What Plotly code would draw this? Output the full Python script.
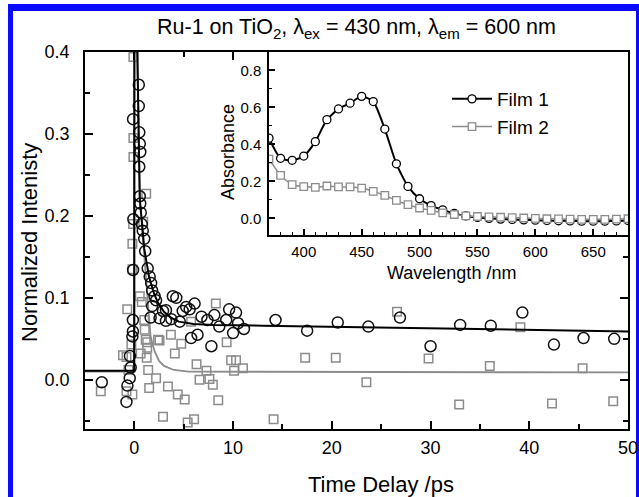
import plotly.graph_objects as go

FONT = "Liberation Sans, Arial, sans-serif"

# ---------------- data ----------------
# main panel: Film 1 (circles), time delay /ps and normalized intensity
film1_t = [-3.3, -0.8, -0.7, -0.47, -0.37, -0.45, -0.2, -0.15, -0.15, -0.13, -0.1, -0.13,
           0.45, 0.45, 0.5, 0.55, 0.6, 0.5, 0.55, 0.6, 0.65, 0.75, 0.85, 1.0, 1.1, 1.35,
           1.55, 1.7, 1.8, 2.05, 2.2, 1.8, 1.65, 2.55, 2.9, 3.2, 3.2, 3.75, 3.9, 4.25, 4.6,
           4.9, 5.25, 5.6, 6.1, 5.75, 6.4, 6.8, 7.4, 7.8, 8.1, 8.6, 9.3, 9.6, 10.0, 10.3,
           10.5, 11.1, 14.3, 17.5, 20.6, 23.7, 26.9, 30.0, 33.0, 36.1, 39.3, 42.5, 45.5, 48.6]
film1_v = [-0.003, -0.027, -0.007, 0.002, 0.015, 0.029, 0.053, 0.059, 0.073, 0.134, 0.196, 0.318,
           0.36, 0.334, 0.302, 0.288, 0.278, 0.26, 0.224, 0.215, 0.204, 0.19, 0.182, 0.172, 0.157, 0.136,
           0.126, 0.118, 0.109, 0.102, 0.097, 0.09, 0.076, 0.075, 0.084, 0.085, 0.072, 0.074, 0.102, 0.1, 0.071,
           0.084, 0.089, 0.086, 0.093, 0.051, 0.055, 0.077, 0.073, 0.041, 0.079, 0.065, 0.073, 0.086, 0.057, 0.082,
           0.069, 0.062, 0.073, 0.06, 0.07, 0.065, 0.076, 0.041, 0.067, 0.066, 0.082, 0.043, 0.051, 0.05]

# main panel: Film 2 (squares)
film2_t = [-3.4, -1.15, -0.8, -0.8, -0.72, -0.6, -0.3, -0.2, -0.2, -0.13, -0.2, -0.1, -0.1, -0.1,
           0.64, 0.55, 0.75, 0.9, 1.2, 1.0, 1.05, 1.15, 1.3, 1.3, 1.25, 1.4, 1.5, 2.4, 2.55,
           2.2, 2.9, 3.4, 3.7, 4.1, 4.4, 4.75, 5.1, 5.4, 6.05, 6.3, 5.75, 7.3, 6.6, 7.6, 7.95,
           8.25, 8.5, 9.35, 9.8, 10.3, 10.1, 11.0, 14.1, 17.3, 20.4, 23.5, 26.6, 29.8, 32.9,
           36.0, 39.1, 42.3, 45.4, 48.5]
film2_v = [-0.014, 0.03, 0.028, -0.014, 0.086, 0.012, 0.043, 0.135, 0.166, 0.19, -0.018, 0.272, 0.295, 0.394,
           0.032, 0.102, 0.095, 0.193, 0.227, 0.073, 0.061, 0.049, 0.046, 0.039, 0.027, 0.012, -0.01, 0.049, 0.048,
           0.002, -0.045, -0.008, 0.055, 0.032, -0.018, 0.044, -0.024, -0.052, -0.048, 0.019, 0.071, 0.011, 0.0, 0.001, -0.006,
           0.093, -0.025, 0.046, 0.024, 0.024, 0.011, 0.014, -0.048, 0.027, 0.027, -0.003, 0.083, 0.026, -0.03,
           0.017, 0.064, -0.029, 0.014, -0.026]

# fit curves
fit1_t = [-5, -0.02, 0.0, 0.2, 0.3, 0.45, 0.55, 0.75, 1.0, 1.5, 2.0, 2.4, 3.0, 3.7, 4.5, 6, 8, 13, 30, 50]
fit1_v = [0.011, 0.011, 0.5, 0.5, 0.40, 0.25, 0.22, 0.195, 0.16, 0.125, 0.105, 0.094, 0.083, 0.076,
          0.071, 0.068, 0.067, 0.066, 0.063, 0.059]
fit2_t = [-5, 0.0, 0.02, 0.2, 0.3, 0.45, 0.55, 0.75, 1.0, 1.25, 1.45, 1.65, 2.05, 2.5, 3.0, 4.0, 5.5, 50]
fit2_v = [0.010, 0.010, 0.5, 0.5, 0.40, 0.25, 0.22, 0.19, 0.15, 0.11, 0.075, 0.052, 0.035, 0.023,
          0.017, 0.012, 0.010, 0.009]

# inset: absorbance spectra
wavelength = [370, 380, 390, 400, 410, 420, 430, 440, 450, 460, 470, 480, 490, 500, 510, 520,
              530, 540, 550, 560, 570, 580, 590, 600, 610, 620, 630, 640, 650, 660, 670, 680]
film1_abs = [0.434, 0.325, 0.314, 0.337, 0.415, 0.534, 0.592, 0.623, 0.66, 0.632, 0.483, 0.295,
             0.173, 0.106, 0.069, 0.046, 0.027, 0.013, 0.005, 0.0, -0.004, -0.006, -0.008, -0.01,
             -0.012, -0.013, -0.014, -0.015, -0.015, -0.015, -0.014, -0.012]
film2_abs = [0.32, 0.233, 0.182, 0.172, 0.168, 0.175, 0.17, 0.17, 0.164, 0.146, 0.124, 0.097,
             0.074, 0.056, 0.043, 0.03, 0.021, 0.014, 0.01, 0.008, 0.006, 0.004, 0.002, 0.0,
             -0.002, -0.003, -0.004, -0.005, -0.005, -0.005, -0.004, -0.002]
excitation_nm = 430

# ---------------- layout geometry (pixels) ----------------
W, H = 639, 497
L, R, T, B = 85, 628, 52, 429


def px(x):
    return (x - L) / (R - L)


def py(y):
    return (B - y) / (B - T)


GRAY = "#8c8c8c"

fig = go.Figure()
fig.add_trace(go.Scatter(x=fit2_t, y=fit2_v, mode="lines", line=dict(color=GRAY, width=1.8),
                         showlegend=False, xaxis="x", yaxis="y", hoverinfo="skip"))
fig.add_trace(go.Scatter(x=film2_t, y=film2_v, mode="markers", showlegend=False,
                         marker=dict(symbol="square-open", size=8.5, color=GRAY, line=dict(width=1.5)),
                         xaxis="x", yaxis="y"))
fig.add_trace(go.Scatter(x=film1_t, y=film1_v, mode="markers", showlegend=False,
                         marker=dict(symbol="circle-open", size=11, color="#111111", line=dict(width=1.5)),
                         xaxis="x", yaxis="y"))
fig.add_trace(go.Scatter(x=fit1_t, y=fit1_v, mode="lines", line=dict(color="black", width=2),
                         showlegend=False, xaxis="x", yaxis="y", hoverinfo="skip"))

fig.add_trace(go.Scatter(x=wavelength, y=film1_abs, mode="lines+markers", name="Film 1",
                         line=dict(color="black", width=2, shape="spline", smoothing=0.6),
                         marker=dict(symbol="circle", size=8, color="white",
                                     line=dict(color="black", width=1.3)),
                         xaxis="x2", yaxis="y2"))
fig.add_trace(go.Scatter(x=wavelength, y=film2_abs, mode="lines+markers", name="Film 2",
                         line=dict(color=GRAY, width=1.5, shape="spline", smoothing=0.6),
                         marker=dict(symbol="square", size=7.5, color="white",
                                     line=dict(color=GRAY, width=1.3)),
                         xaxis="x2", yaxis="y2"))

common = dict(showline=True, linecolor="black", linewidth=1.5, ticks="inside", tickcolor="black",
              tickwidth=1.5, showgrid=False, zeroline=False, automargin=False)

fig.update_layout(
    width=W, height=H,
    margin=dict(l=L, r=W - R, t=T, b=H - B, autoexpand=False),
    paper_bgcolor="white", plot_bgcolor="white",
    font=dict(family=FONT, color="black"),
    xaxis=dict(**common, domain=[0, 1], anchor="y", range=[-5, 50], tick0=0, dtick=10, ticklen=8,
               mirror="ticks", ticklabelstandoff=2,
               tickfont=dict(family=FONT, size=18, color="black"),
               minor=dict(dtick=5, tick0=0, ticks="inside", ticklen=5, tickcolor="black", tickwidth=1.5)),
    yaxis=dict(**common, domain=[0, 1], anchor="x", range=[-0.06, 0.4], tick0=0, dtick=0.1,
               tickformat=".1f", ticklen=8, mirror="ticks", ticklabelstandoff=10,
               tickfont=dict(family=FONT, size=18, color="black"),
               minor=dict(dtick=0.05, tick0=0, ticks="inside", ticklen=5, tickcolor="black", tickwidth=1.5)),
    xaxis2=dict(**common, domain=[px(269), 1], anchor="y2", range=[370, 680], tick0=0, dtick=50,
                ticklen=6, ticklabelstandoff=2,
                tickfont=dict(family=FONT, size=15, color="black"),
                minor=dict(dtick=10, tick0=0, ticks="inside", ticklen=3, tickcolor="black", tickwidth=1.2)),
    yaxis2=dict(**common, domain=[py(235), 1], anchor="x2", range=[-0.09, 0.9], tick0=0, dtick=0.2,
                tickformat=".1f", ticklen=6, ticklabelstandoff=3,
                tickfont=dict(family=FONT, size=15, color="black"),
                minor=dict(dtick=0.1, tick0=0, ticks="inside", ticklen=3, tickcolor="black", tickwidth=1.2)),
    legend=dict(x=px(447), y=py(80), xanchor="left", yanchor="top", bgcolor="rgba(0,0,0,0)",
                font=dict(family=FONT, size=19, color="black"), itemwidth=40, tracegroupgap=0),
    showlegend=True,
)

fig.add_shape(type="line", xref="x2", yref="y2 domain", x0=excitation_nm, x1=excitation_nm, y0=0, y1=1,
              line=dict(color="#aaaaaa", width=1.5, dash="dash"), layer="below")

# blue frame around the figure
BLUE = "#0a0aff"
for x0, y0, x1, y1 in [(8, 4, 639, 11), (8, 4, 13, 497), (636, 4, 639, 497)]:
    fig.add_shape(type="rect", xref="paper", yref="paper", x0=px(x0), x1=px(x1), y0=py(y0), y1=py(y1),
                  line=dict(width=0), fillcolor=BLUE, layer="below")

ann = [
    dict(text="Ru-1 on TiO<sub>2</sub>, λ<sub>ex</sub> = 430 nm, λ<sub>em</sub> = 600 nm",
         x=px(356), y=py(29), size=21.5, angle=0),
    dict(text="Normalized Intenisty", x=px(30), y=py(243), size=22, angle=-90),
    dict(text="Time Delay /ps", x=px(381), y=py(484), size=22, angle=0),
    dict(text="Absorbance", x=px(228), y=py(152), size=18, angle=-90),
    dict(text="Wavelength /nm", x=px(451), y=py(273), size=18, angle=0),
]
for a in ann:
    fig.add_annotation(text=a["text"], x=a["x"], y=a["y"], xref="paper", yref="paper",
                       xanchor="center", yanchor="middle", showarrow=False, textangle=a["angle"],
                       font=dict(family=FONT, size=a["size"], color="black"))

fig.write_html("out.html", config={"displayModeBar": False},
               post_script="document.body.style.margin='0px';document.body.style.overflow='hidden';")
